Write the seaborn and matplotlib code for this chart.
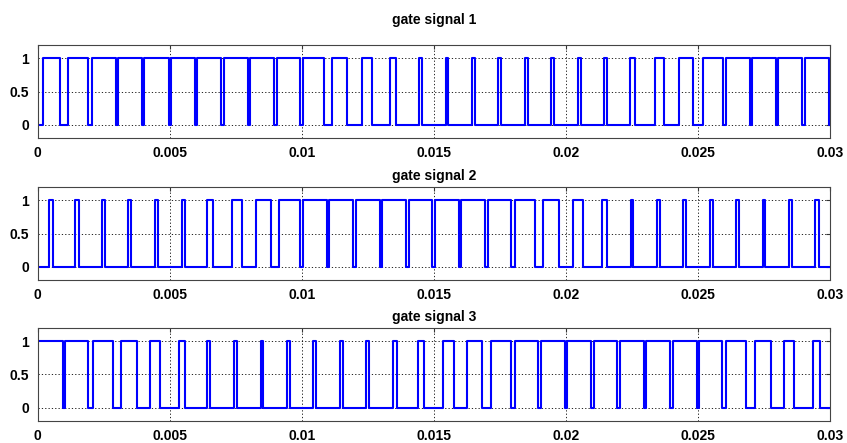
import numpy as np
import matplotlib
matplotlib.use("Agg")
import matplotlib.pyplot as plt
import seaborn as sns

# Width (ms) of the low interval centred on each carrier instant k = 0..30 ms
gate1_gaps = [0.44, 0.32, 0.16, 0.09, 0.09, 0.08, 0.10, 0.10, 0.10, 0.10,
              0.12, 0.29, 0.53, 0.68, 0.86, 0.90, 0.90, 0.89, 0.88, 0.90,
              0.89, 0.88, 0.87, 0.73, 0.53, 0.35, 0.13, 0.09, 0.08, 0.10,
              0.10]
gate2_gaps = [0.90, 0.86, 0.89, 0.88, 0.91, 0.91, 0.84, 0.73, 0.51, 0.30,
              0.10, 0.10, 0.10, 0.10, 0.13, 0.10, 0.09, 0.10, 0.16, 0.30,
              0.53, 0.71, 0.91, 0.91, 0.88, 0.91, 0.89, 0.91, 0.91, 0.88,
              0.84]
gate3_gaps = [0.00, 0.10, 0.19, 0.32, 0.48, 0.69, 0.86, 0.91, 0.89, 0.89,
              0.88, 0.89, 0.88, 0.91, 0.81, 0.73, 0.50, 0.32, 0.16, 0.09,
              0.09, 0.10, 0.09, 0.10, 0.12, 0.10, 0.15, 0.35, 0.50, 0.72,
              0.78]

titles = ["gate signal 1", "gate signal 2", "gate signal 3"]
x_ticks = [0, 0.005, 0.01, 0.015, 0.02, 0.025, 0.03]
x_ticklabels = ["0", "0.005", "0.01", "0.015", "0.02", "0.025", "0.03"]
y_ticks = [0, 0.5, 1]
y_ticklabels = ["0", "0.5", "1"]
carrier_period_ms = 1.0
t_end_ms = 30.0


def switching_points(gaps):
    """Turn per-carrier low widths into (time, level) pairs for a post-step line."""
    t, v = [], []
    for k, g in enumerate(gaps):
        c = k * carrier_period_ms
        lo = max(0.0, c - g / 2)
        hi = min(t_end_ms, c + g / 2)
        if g <= 0:
            if k == 0:
                t.append(0.0); v.append(1)
            continue
        t.append(lo); v.append(0)
        if hi < t_end_ms:
            t.append(hi); v.append(1)
    t.append(t_end_ms); v.append(v[-1])
    return np.array(t) * 1e-3, np.array(v)


sns.set_style("white")
plt.rcParams["font.family"] = ["Liberation Sans", "DejaVu Sans"]
plt.rcParams["font.weight"] = "bold"

fig = plt.figure(figsize=(8.47, 4.43), dpi=100)
W, H = 847, 443
left_px, right_px = 37.5, 830
panels_px = [(45, 138), (187, 280), (328, 421)]
title_pads = [15, 5, 5]

for (top, bot), gaps, title, tpad in zip(panels_px, [gate1_gaps, gate2_gaps, gate3_gaps],
                                        titles, title_pads):
    ax = fig.add_axes([left_px / W, 1 - bot / H, (right_px - left_px) / W, (bot - top) / H])
    t, v = switching_points(gaps)
    sns.lineplot(x=t, y=v, ax=ax, drawstyle="steps-post", estimator=None,
                 sort=False, color=(0, 0, 1), linewidth=1.5)
    ax.set_xlim(0, 0.03)
    ax.set_ylim(-0.2, 1.2)
    ax.set_xticks(x_ticks)
    ax.set_xticklabels(x_ticklabels)
    ax.set_yticks(y_ticks)
    ax.set_yticklabels(y_ticklabels)
    ax.grid(True, color="black", linestyle=(0, (1.5, 2.5)), linewidth=0.6)
    ax.tick_params(direction="in", length=3, top=True, right=True,
                   labelsize=10, pad=6, colors="#333333", labelcolor="black")
    for lab in ax.get_xticklabels() + ax.get_yticklabels():
        lab.set_fontweight("bold")
    for s in ax.spines.values():
        s.set_visible(True)
        s.set_color("#444444")
        s.set_linewidth(0.8)
    ax.set_xlabel("")
    ax.set_ylabel("")
    ax.set_title(title, fontsize=10, fontweight="bold", pad=tpad, color="black")

fig.savefig("out.png", dpi=100)
